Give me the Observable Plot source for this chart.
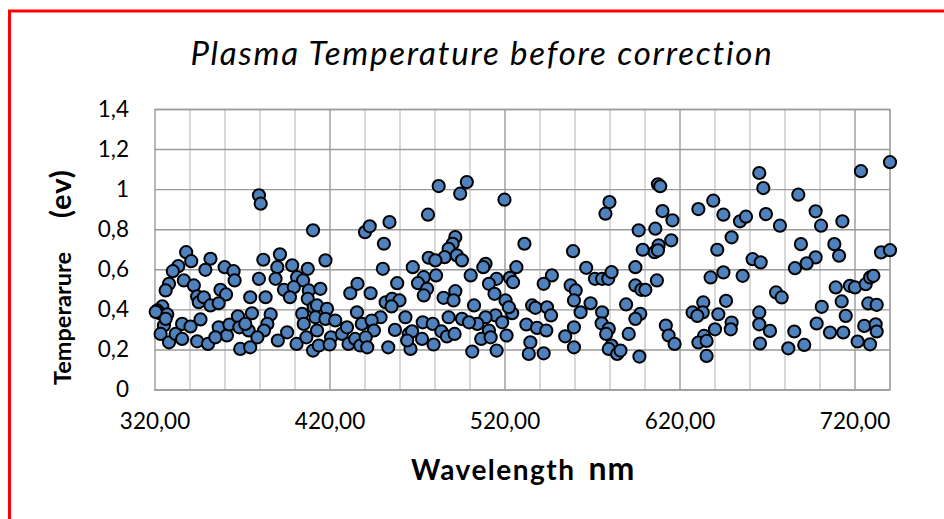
<!DOCTYPE html>
<html><head><meta charset="utf-8">
<script src="https://cdn.jsdelivr.net/npm/d3@7"></script>
<script src="https://cdn.jsdelivr.net/npm/@observablehq/plot@0.6"></script>
<style>
body{margin:0;background:#fff;}
#chart{width:944px;height:519px;overflow:hidden;}
svg{display:block}
</style></head><body><div id="chart"></div>
<script>
const titleText = "Plasma Temperature before correction";
const xTitle = ["Wavelength", "nm"];
const yTitle = ["Temperarure", "(ev)"];
const xTicks = [320, 420, 520, 620, 720];
const xTickLabels = ["320,00", "420,00", "520,00", "620,00", "720,00"];
const xMinor = [340, 360, 380, 400, 440, 460, 480, 500, 540, 560, 580, 600, 640, 660, 680, 700, 740];
const xMajor = [420, 520, 620, 720];
const yTicks = [0, 0.2, 0.4, 0.6, 0.8, 1.0, 1.2, 1.4];
const yTickLabels = ["0", "0,2", "0,4", "0,6", "0,8", "1", "1,2", "1,4"];

// [wavelength nm, temperature ev]
const points320 = [[337.8,0.688],[340.7,0.643],[333.3,0.618],[330.2,0.593],[351.7,0.655],[348.8,0.600],[359.8,0.613],[364.9,0.593],[365.5,0.547],[328.0,0.530],[326.1,0.497],[336.5,0.547],[342.2,0.522],[344.1,0.467],[345.0,0.438],[347.9,0.463],[351.7,0.422],[357.4,0.500],[360.6,0.477],[356.4,0.433],[324.2,0.417],[321.3,0.397],[322.7,0.383],[327.0,0.377],[325.1,0.322],[323.2,0.280],[328.0,0.238],[331.8,0.280],[335.5,0.255],[335.5,0.330],[340.3,0.317],[346.0,0.352],[344.1,0.243],[350.3,0.230],[356.4,0.313],[361.1,0.272],[362.5,0.327],[367.4,0.368],[368.2,0.313],[368.7,0.205],[373.5,0.297],[374.4,0.213],[375.4,0.383],[374.4,0.463],[326.1,0.355],[354.5,0.263],[371.6,0.330],[320.4,0.390]];
const points380 = [[379.4,0.972],[380.4,0.930],[410.3,0.797],[381.9,0.650],[391.4,0.677],[389.9,0.613],[398.4,0.622],[407.3,0.605],[417.4,0.647],[379.4,0.555],[388.9,0.555],[401.2,0.563],[404.6,0.547],[393.7,0.500],[399.3,0.513],[407.9,0.497],[414.5,0.505],[397.1,0.463],[407.3,0.455],[410.7,0.413],[412.6,0.422],[418.3,0.405],[383.2,0.463],[386.1,0.377],[384.2,0.330],[382.3,0.297],[378.5,0.263],[404.1,0.380],[405.0,0.330],[411.7,0.363],[417.4,0.355],[423.0,0.347],[395.5,0.288],[390.2,0.247],[400.9,0.230],[406.5,0.263],[412.6,0.297],[410.3,0.197],[413.6,0.222],[420.6,0.263],[419.8,0.227],[426.8,0.280],[429.7,0.313],[430.6,0.230],[434.4,0.255],[435.4,0.388],[438.2,0.330],[437.3,0.222],[431.6,0.483],[435.7,0.530]];
const points440 = [[482.1,1.018],[494.4,0.980],[498.2,1.038],[476.0,0.875],[440.0,0.788],[442.7,0.817],[454.0,0.838],[450.8,0.730],[450.2,0.605],[491.6,0.763],[490.1,0.730],[487.8,0.705],[485.5,0.663],[492.5,0.672],[495.4,0.647],[476.4,0.660],[480.2,0.647],[467.3,0.613],[473.6,0.563],[470.3,0.533],[480.6,0.572],[475.5,0.505],[473.6,0.472],[458.4,0.533],[443.2,0.483],[491.6,0.493],[484.9,0.460],[490.6,0.447],[451.8,0.438],[455.5,0.455],[459.7,0.447],[455.2,0.417],[448.9,0.363],[443.8,0.347],[445.1,0.297],[440.4,0.263],[441.3,0.213],[453.3,0.213],[457.1,0.300],[463.1,0.363],[465.0,0.280],[466.9,0.293],[466.0,0.205],[464.1,0.247],[473.0,0.338],[478.7,0.330],[472.6,0.255],[479.2,0.227],[483.6,0.293],[486.8,0.267],[487.8,0.363],[491.2,0.280],[495.4,0.355]];
const points500 = [[519.7,0.950],[531.1,0.730],[508.9,0.630],[507.6,0.613],[526.5,0.613],[500.4,0.572],[515.2,0.555],[510.8,0.530],[522.8,0.560],[524.6,0.538],[546.8,0.572],[542.1,0.530],[514.0,0.480],[520.3,0.447],[502.3,0.422],[524.1,0.383],[522.2,0.413],[535.5,0.422],[537.4,0.410],[544.0,0.413],[546.3,0.372],[514.6,0.372],[508.9,0.363],[504.2,0.330],[499.4,0.338],[518.4,0.338],[510.8,0.297],[506.4,0.255],[511.8,0.263],[520.9,0.272],[532.2,0.327],[538.3,0.310],[543.6,0.297],[534.5,0.238],[533.6,0.180],[542.1,0.183],[501.3,0.192],[515.2,0.197],[554.4,0.268]];
const points560 = [[607.4,1.027],[608.7,1.017],[579.7,0.938],[577.4,0.880],[610.0,0.893],[615.7,0.847],[596.4,0.797],[605.9,0.805],[615.0,0.747],[607.8,0.722],[605.5,0.688],[607.4,0.697],[598.7,0.700],[558.9,0.693],[566.4,0.610],[571.4,0.555],[575.5,0.555],[579.0,0.555],[580.9,0.588],[594.5,0.613],[606.8,0.547],[594.5,0.522],[597.9,0.500],[600.2,0.500],[557.5,0.522],[560.4,0.497],[559.4,0.447],[563.2,0.388],[568.9,0.433],[575.5,0.388],[575.2,0.333],[579.3,0.305],[577.8,0.280],[589.2,0.427],[597.3,0.380],[594.5,0.355],[590.7,0.280],[559.4,0.313],[559.4,0.213],[580.9,0.222],[579.3,0.205],[584.1,0.180],[586.0,0.197],[596.8,0.167],[611.9,0.322],[613.5,0.272],[616.9,0.230]];
const points620 = [[665.3,1.083],[667.6,1.008],[639.0,0.945],[630.5,0.903],[644.8,0.875],[654.3,0.842],[657.7,0.865],[669.1,0.878],[677.1,0.820],[649.5,0.762],[641.3,0.700],[661.5,0.653],[666.1,0.637],[637.5,0.562],[644.8,0.587],[655.8,0.570],[674.9,0.487],[678.1,0.462],[627.2,0.387],[633.3,0.437],[633.0,0.387],[629.9,0.370],[641.9,0.378],[646.3,0.445],[649.5,0.337],[649.0,0.303],[640.0,0.303],[633.7,0.270],[630.5,0.237],[635.2,0.245],[635.2,0.170],[665.3,0.387],[665.3,0.328],[671.4,0.295],[665.7,0.232]];
const points680 = [[740.0,1.137],[723.4,1.092],[687.6,0.975],[697.5,0.892],[700.6,0.820],[712.8,0.842],[689.1,0.728],[708.2,0.728],[710.9,0.670],[697.5,0.662],[692.4,0.632],[685.7,0.608],[734.9,0.687],[740.0,0.698],[709.0,0.512],[717.1,0.520],[720.0,0.512],[726.1,0.528],[728.6,0.562],[730.5,0.570],[701.0,0.415],[712.4,0.442],[714.7,0.370],[727.6,0.432],[732.4,0.425],[698.1,0.332],[685.3,0.292],[705.7,0.287],[713.3,0.287],[725.3,0.320],[731.8,0.328],[732.4,0.292],[721.5,0.242],[728.6,0.228],[681.9,0.208],[691.0,0.225]];

const data = [...points320, ...points380, ...points440, ...points500, ...points560, ...points620, ...points680]
  .map(([w, t]) => ({w, t}));

const FONT = "Lato, 'Open Sans', sans-serif";
const chart = Plot.plot({
  width: 944, height: 519,
  marginLeft: 154.5, marginRight: 54.5, marginTop: 109, marginBottom: 129.5,
  style: {fontFamily: FONT, fontSize: "22px", color: "#000", background: "#fff", overflow: "visible"},
  x: {domain: [320, 740], label: null},
  y: {domain: [0, 1.4], label: null},
  marks: [
    Plot.gridX(xMinor, {stroke: "#c9c9c9", strokeOpacity: 1, strokeWidth: 1.4}),
    Plot.gridY(yTicks, {stroke: "#9a9a9a", strokeOpacity: 1, strokeWidth: 1.4}),
    Plot.gridX(xMajor, {stroke: "#9a9a9a", strokeOpacity: 1, strokeWidth: 1.4}),
    Plot.frame({stroke: "#9a9a9a", strokeWidth: 1.4}),
    Plot.axisX(xTicks, {tickSize: 0, tickPadding: 23, fontSize: 22.5, fill: "#000",
      tickFormat: d => xTickLabels[xTicks.indexOf(d)], label: null}),
    Plot.axisY(yTicks, {tickSize: 0, tickPadding: 26, fontSize: 22.5, fill: "#000",
      tickFormat: d => yTickLabels[yTicks.indexOf(d)], label: null}),
    Plot.dot(data, {x: "w", y: "t", r: 6.1, fill: "#4f81bd", stroke: "#000", strokeWidth: 2, clip: false})
  ]
});
document.getElementById("chart").appendChild(chart);

const svg = d3.select(chart);
// red outer border (cropped on right and bottom)
svg.append("path").attr("d", "M944,11H9.5V519").attr("fill", "none").attr("stroke", "#ff0000").attr("stroke-width", 3);
// title
svg.append("text").attr("x", 482).attr("y", 65).attr("text-anchor", "middle")
  .attr("font-family", FONT).attr("font-style", "italic").attr("font-size", 33)
  .attr("letter-spacing", 1.8).attr("fill", "#000")
  .text(titleText);
// x title
const xt = svg.append("text").attr("x", 411).attr("y", 480).attr("text-anchor", "start")
  .attr("font-family", FONT).attr("font-weight", "bold").attr("fill", "#000");
xt.append("tspan").attr("font-size", 28).attr("letter-spacing", 1.5).text(xTitle[0]);
xt.append("tspan").attr("dx", 13).attr("font-size", 32).attr("letter-spacing", 1).text(xTitle[1]);
// y title
const yt = svg.append("text").attr("transform", "translate(71,385) rotate(-90)").attr("text-anchor", "start")
  .attr("font-family", FONT).attr("font-weight", "bold").attr("fill", "#000");
yt.append("tspan").attr("font-size", 23.5).text(yTitle[0]);
yt.append("tspan").attr("dx", 34).attr("font-size", 29).attr("letter-spacing", 1).text(yTitle[1]);
</script></body></html>
